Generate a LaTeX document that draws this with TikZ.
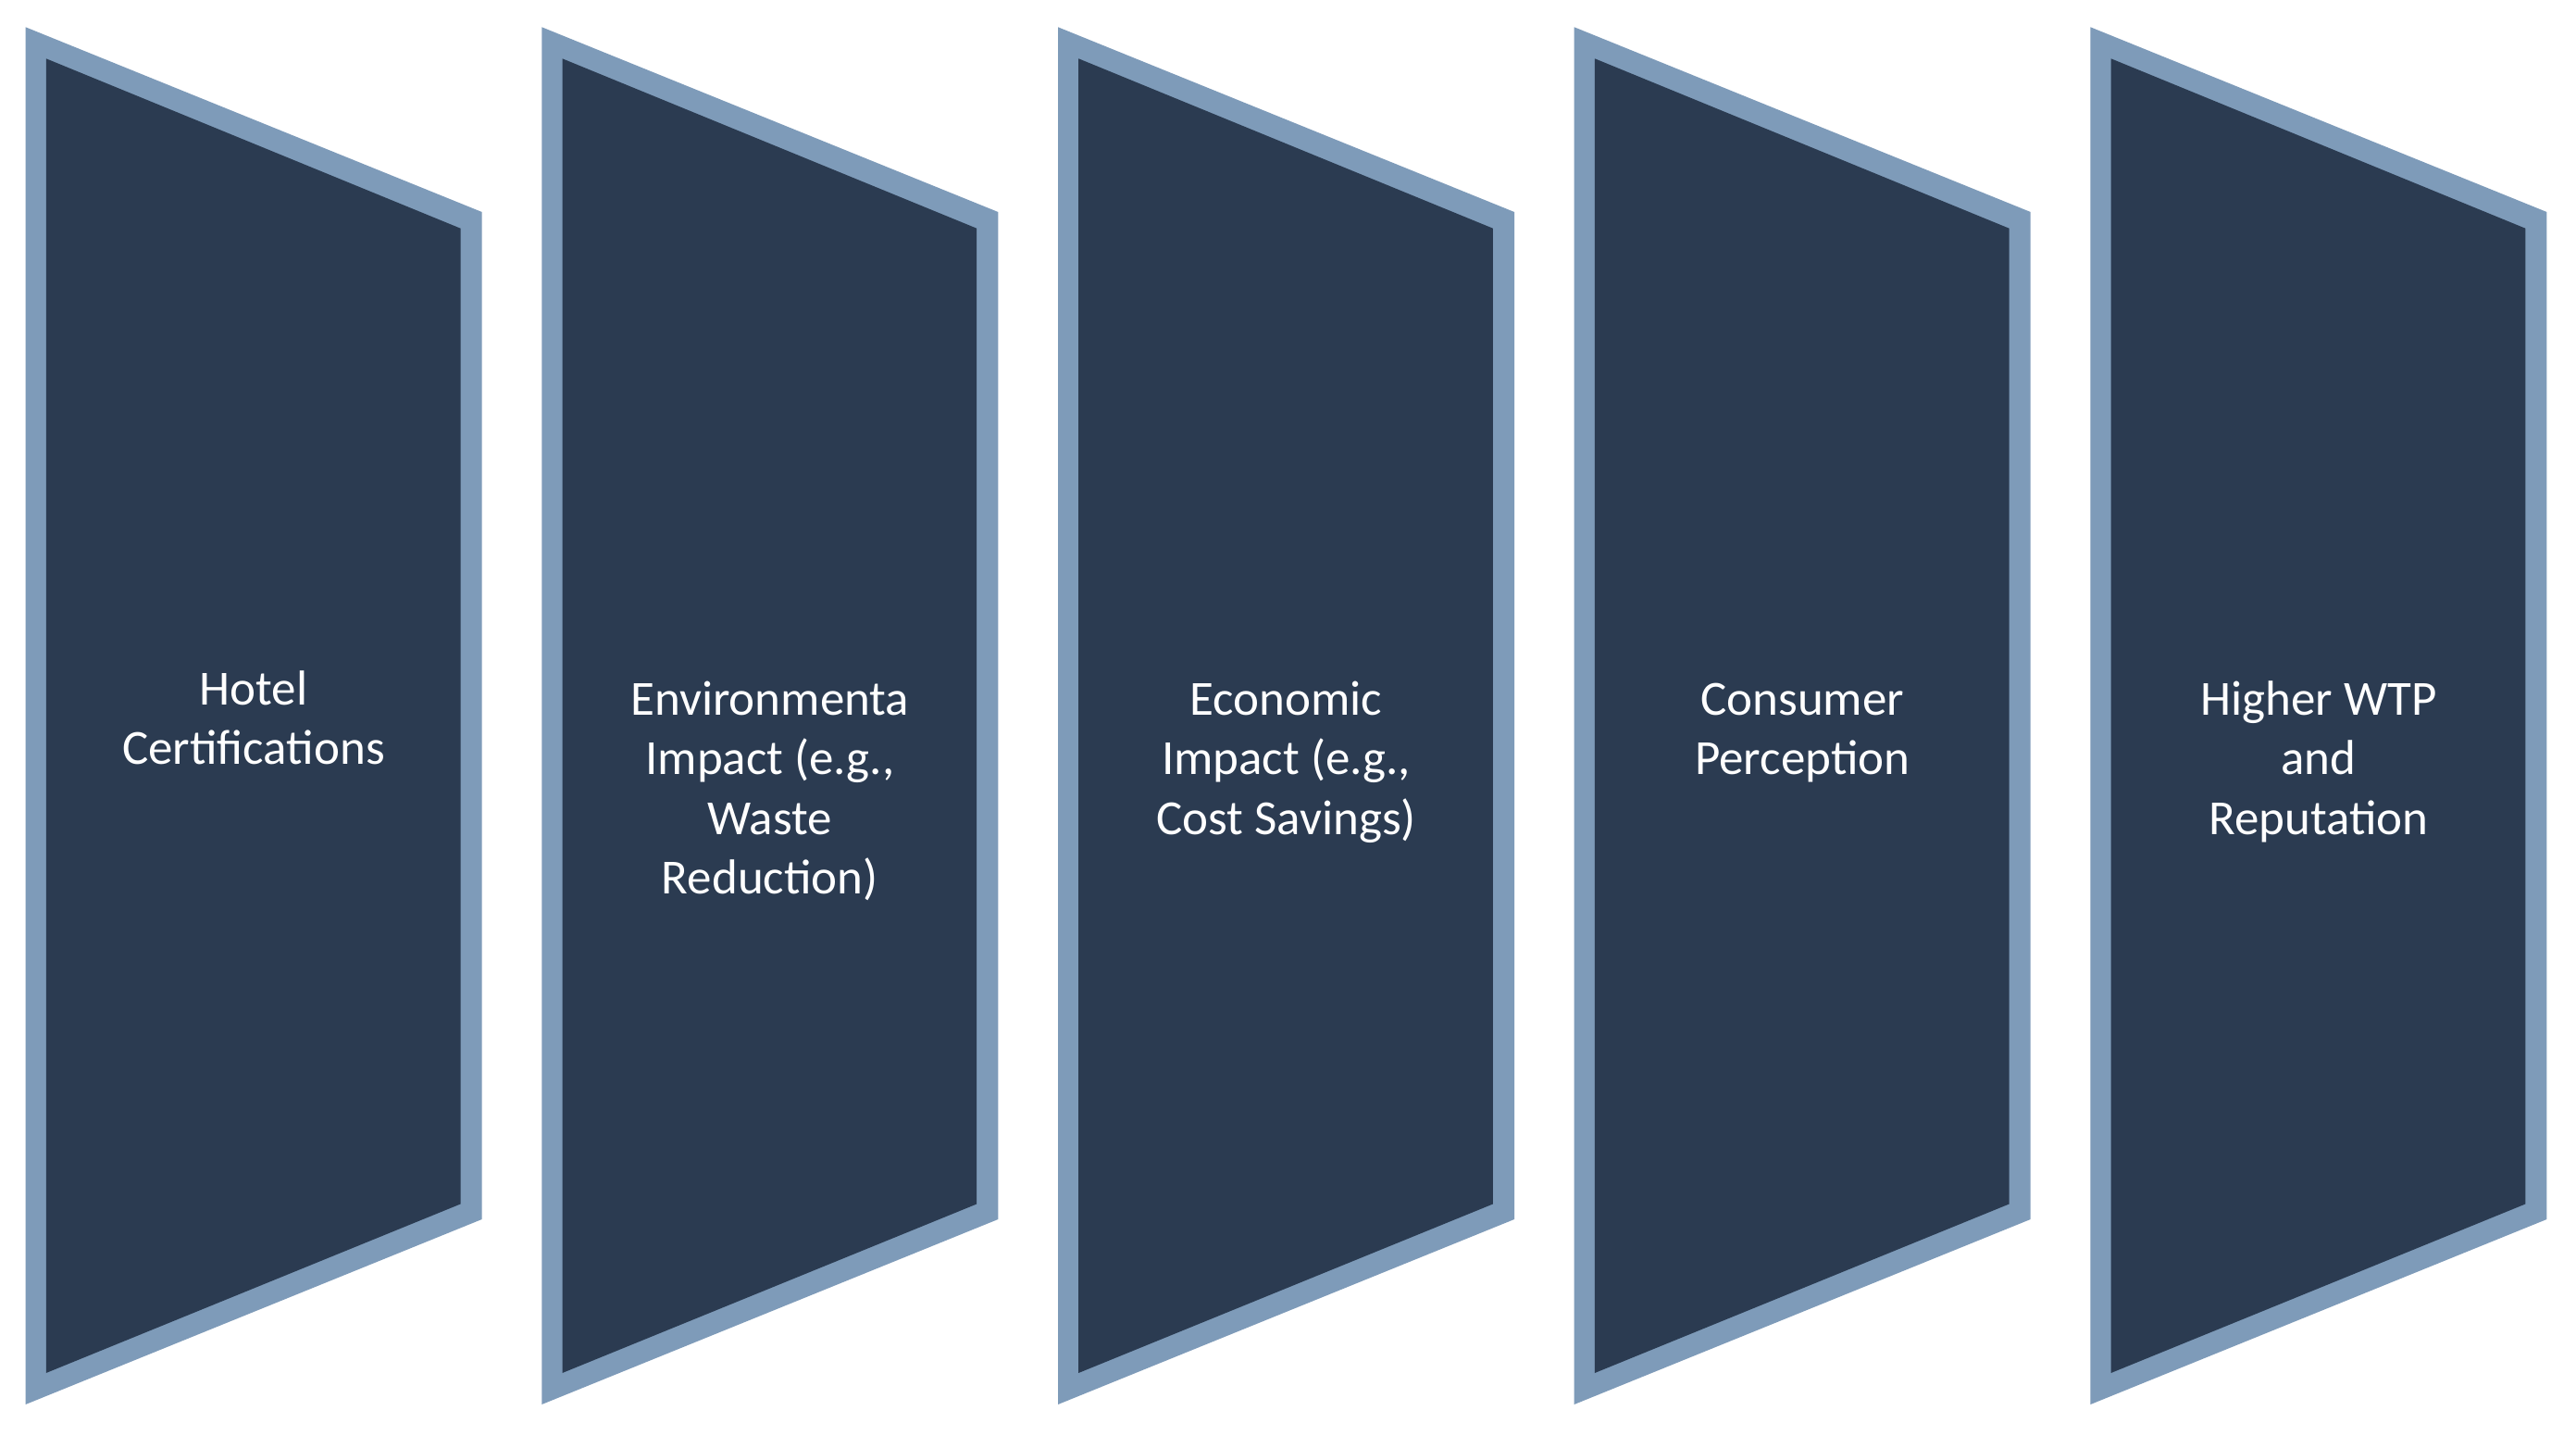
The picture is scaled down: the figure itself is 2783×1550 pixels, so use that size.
\documentclass[tikz,border=0pt]{standalone}
\usepackage{fontspec}
\setmainfont{Carlito}
\definecolor{fillc}{HTML}{2B3B51}
\definecolor{edgec}{HTML}{7E9BB9}
\begin{document}
\begin{tikzpicture}[x=0.25pt,y=-0.25pt,
  lbl/.style={text=white, font=\fontsize{13.25}{16.125}\selectfont, align=flush center,
              text width=120pt, inner sep=0pt, anchor=base}]
\useasboundingbox (0,0) rectangle (2783,1550);
\fill[white] (0,0) rectangle (2783,1550);
\foreach \i in {0,...,4} {
  \pgfmathsetmacro\xo{27.6+557.7*\i}
  \fill[edgec] (\xo,29.3) -- (\xo+493,229) -- (\xo+493,1317) -- (\xo,1517) -- cycle;
  \fill[fillc] (\xo+22.2,63.3) -- (\xo+469.9,246.7) -- (\xo+469.9,1300.5) -- (\xo+22.2,1483) -- cycle;
}
\node[lbl] (t1) at (274.1,761) {Hotel\\Certifications};
\node[lbl] (t2) at (831.8,772) {Environmenta\\Impact (e.g.,\\Waste\\Reduction)};
\node[lbl] (t3) at (1389.5,772) {Economic\\Impact (e.g.,\\Cost Savings)};
\node[lbl] (t4) at (1947.2,772) {Consumer\\Perception};
\node[lbl] (t5) at (2504.9,772) {Higher WTP\\and\\Reputation};
\end{tikzpicture}
\end{document}
